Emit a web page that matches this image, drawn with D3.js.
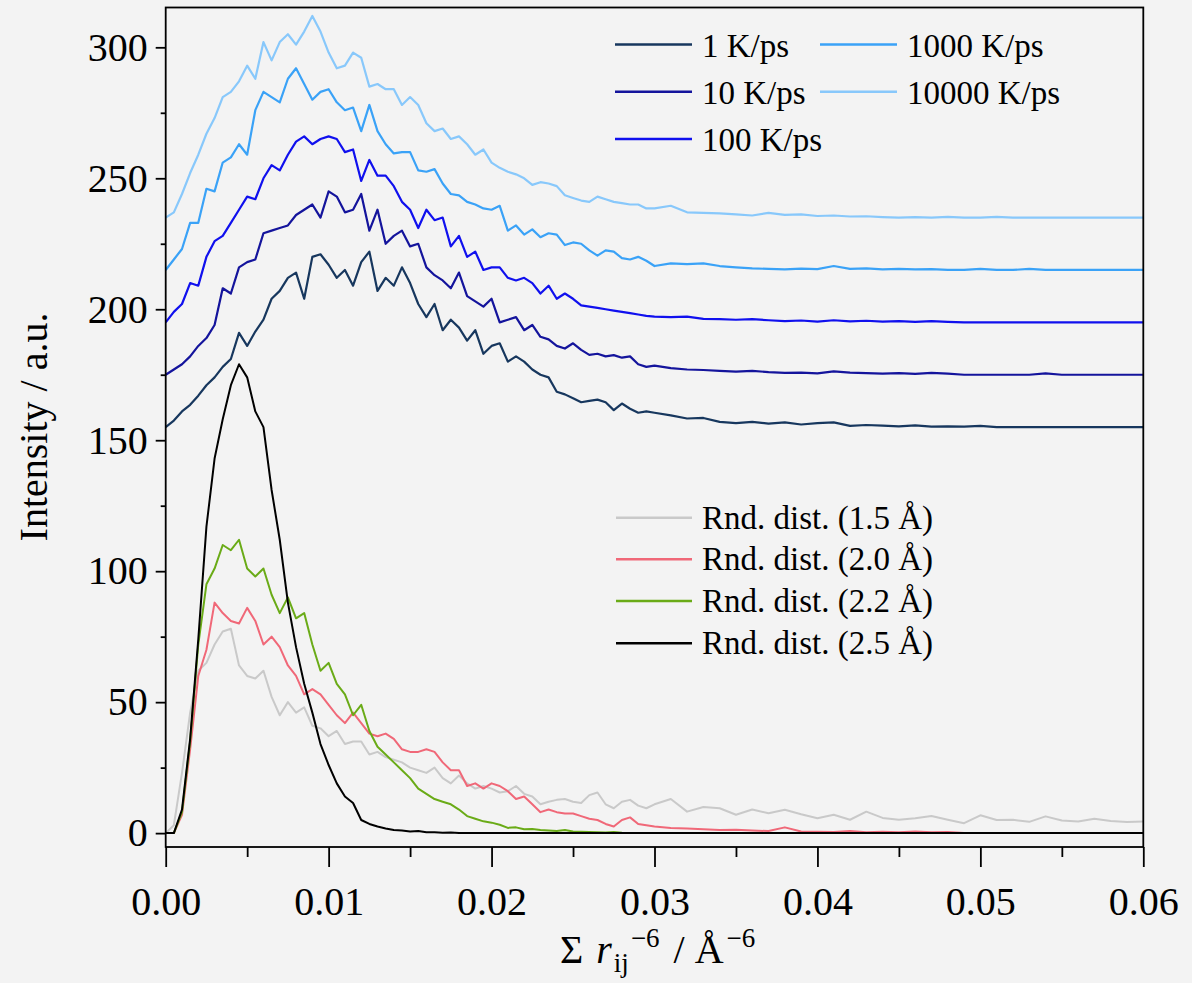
<!DOCTYPE html>
<html><head><meta charset="utf-8">
<script src="https://cdn.jsdelivr.net/npm/d3@7"></script>
<style>
html,body{margin:0;padding:0;background:#f3f3f3;}
svg{display:block;}
</style></head><body>
<svg id="chart" width="1192" height="983"></svg>
<script>
// ---- sampling grid (x = sum r_ij^-6 in Å^-6) ----
const xFine = d3.range(0, 61).map(i => +(i * 0.0005).toFixed(4));      // 0 .. 0.030
const xCoarse = d3.range(31, 61).map(i => +(i * 0.001).toFixed(3));    // 0.031 .. 0.060
const xGrid = xFine.concat(xCoarse);

// ---- tick values ----
const xMajorTicks = [0, 0.01, 0.02, 0.03, 0.04, 0.05, 0.06];
const xMinorTicks = [0.005, 0.015, 0.025, 0.035, 0.045, 0.055];
const yMajorTicks = [0, 50, 100, 150, 200, 250, 300];
const yMinorTicks = [25, 75, 125, 175, 225, 275];

// ---- cooling-rate series (vertically offset in the original) ----
const rate1 = [155,157.5,161,163.5,167,171,174,178,181,191,186,191.5,196,204,207,212,214,204,220,221,217,212,215,209,218,222,207,212,209,216,210,202,197,202,192,196,193,188,192,183,186,187,180,182,180,177,175,174,168.5,167.5,166,164.5,165,165.5,164.5,161.5,164,162,160.5,161,160.5,
  159.5,158.3,158.5,157,156.5,157,156.3,156.8,156,156.5,156.8,155.5,155.8,155.6,155.3,155.7,155.2,155.3,155.2,155.5,155,155,155,155,155,155,155,155,155,155];
const rate10 = [175,177,179,182,186,189,194,208,206,216,218,219,229,230,231,232,236,238,240,235,245,243,237,238,244,230,238,225,228,230,224,225,216,213,211,208,214,205,203,201,204,195,196,197,192,194,189.5,188.5,186,185,187,184.5,182.6,183,182,182.5,181.5,182,179,178,178.5,
  177.5,177,176.8,176.5,176.2,176.5,176,175.7,175.8,175.5,176.3,175.8,175.6,175.4,175.6,175.3,175.7,175.4,175,175,175,175,175,175.5,175,175,175,175,175,175];
const rate100 = [195,199,202,210,209,220,226,228,233,238,243,242,250,255,253,259,264,266,263,265,266,265,260,261,249,257,251,251,247,241,238,231,238,234,235,224,228,220,222,215,216,216,212,211,212,210,206,209,204,206,204,201.5,201,200.5,200,199.5,199,198.5,198,197.5,197.2,
  197,197.2,196.3,196.2,196,196.2,195.8,195.5,195.7,195.3,195.8,195.4,195.6,195.3,195.5,195.2,195.5,195.2,195,195,195,195,195,195,195,195,195,195,195,195];
const rate1000 = [215,219,223,233,233,246,245,256,258,263,259,276,283,281,279,288,292,286,280,283,284,279,276,277,268,278,268,263,259.5,260,260,253,252.5,253.5,248,244,243.5,241,240,238.5,238,239.5,230,232,228.5,230.5,227.5,229,228.5,224.5,225.5,225,222.5,220.5,222.5,222,219.5,219,220,218.5,216.5,
  217.5,217.2,217.5,216.5,216,215.6,215.4,215.2,215.5,215.3,216.5,215.4,215.6,215.2,215.4,215.2,215.3,215,215,215.4,215,215,215.4,215,215,215,215,215,215,215];
const rate10000 = [235,237,244,252,259,267,273,281,283,287,293,288,302,295,302,305,301,306,312,306,298,292,293,298,296,285,286,284,284,278,281,278,271,268,269,265,266,263,259,261,256,254,252.5,251.5,250,247.5,248.5,248,247,243.5,242.5,241.5,241,243,242,241,240.5,240,240,238.5,238.5,
  239.5,237,236.8,236.6,236.2,235.8,236.8,236,236.2,235.6,235.8,235.4,235.5,235.2,235,235.2,235,235.3,235,235,235.3,235,235,235,235,235,235,235,235,235];

// ---- random-distribution series ----
const rnd15 = [0,3,23,46,62,65,72,77,78,64,60,59,62,52,45,50,46,48,41,40,37,39,34,35,35,30,31,29,28,27,25,24,23,25,21,19,22,19,17,18,17,15.5,16,18,15,14,11,12,12.7,13,12,11.5,14.5,15.5,11,9.5,12,12.7,10.5,9.5,11,
  13,8.2,10,9.5,7,9,7.6,8.9,7.2,5.7,7,5.1,8.2,5.8,5.1,5.7,6.5,5.1,3.8,6.8,5,5.1,4.3,6.4,4.8,4.4,5.5,4.6,4.2,4.4];
const rnd20 = [0,0,7,32,60,70,88,84,81,80,86,81,72,75,71,64,60,53,55,53,49,45,42,46,42,38,37,38,36,32,31,31,32,31,27,24,24,18,19,17,19,18,16,13,14,11,8,9,8,7.5,7.5,6.5,5.5,5,3.5,2.5,5,6,3.5,3,2.5,
  2,1.8,1.5,1.2,1.3,1,0.8,2.2,0.6,0.5,0.4,0.8,0.3,0.5,0.3,0.6,0.3,0.4,0,0,0,0,0,0,0,0,0,0,0,0];
const rnd22 = [0,0,8,35,72,95,101,110,108,112,101,98,101,91,84,90,82,84,72,62,65,57,53,45,49,39,33,30,27,24,21,17,15,13,12,11,9,6.5,5.5,4.5,4,3.2,2,2.2,1.5,1.6,1.2,1,0.8,1.2,0.6,0.5,0.4,0.3,0.2,0.4,0.1,0,0,0,0,
  0,0,0,0,0,0,0,0,0,0,0,0,0,0,0,0,0,0,0,0,0,0,0,0,0,0,0,0,0,0];
const rnd25 = [0,0,9,36,74,117,143,158,171,179,174,161,155,131,112,88,71,57,46,34,26,19,14,11.5,5,3.5,2.5,1.8,1.2,1,0.6,0.8,0.3,0.3,0.1,0.2,0,0,0,0,0,0,0,0,0,0,0,0,0,0,0,0,0,0,0,0,0,0,0,0,0,
  0,0,0,0,0,0,0,0,0,0,0,0,0,0,0,0,0,0,0,0,0,0,0,0,0,0,0,0,0,0];

const rateNames = ["1 K/ps", "10 K/ps", "100 K/ps", "1000 K/ps", "10000 K/ps"];
const rateColors = ["#17375e", "#14149c", "#1010ee", "#3aa2f7", "#88c8fb"];
const rateValues = [rate1, rate10, rate100, rate1000, rate10000];

const rndNames = ["Rnd. dist. (1.5 Å)", "Rnd. dist. (2.0 Å)", "Rnd. dist. (2.2 Å)", "Rnd. dist. (2.5 Å)"];
const rndColors = ["#c9c9c9", "#f06878", "#6aab17", "#000000"];
const rndValues = [rnd15, rnd20, rnd22, rnd25];

// ---- drawing ----
const FONT = '"Liberation Serif","Times New Roman",Times,serif';
const svg = d3.select("#chart");
svg.append("rect").attr("width", 1192).attr("height", 983).attr("fill", "#f3f3f3");

const M = {left: 165.7, right: 1143.3, top: 7.5, bottom: 847};
const x = d3.scaleLinear().domain([0, 0.06]).range([M.left, M.right]);
const y = d3.scaleLinear().domain([-5.3, 315.2]).range([M.bottom, M.top]);

svg.append("clipPath").attr("id", "clip").append("rect")
  .attr("x", M.left).attr("y", M.top).attr("width", M.right - M.left).attr("height", M.bottom - M.top);

const line = d3.line().x(d => x(d[0])).y(d => y(d[1]));
const plot = svg.append("g").attr("clip-path", "url(#clip)");

rateValues.forEach((vals, k) => {
  plot.append("path").datum(xGrid.map((xv, i) => [xv, vals[i]]))
    .attr("fill", "none").attr("stroke", rateColors[k]).attr("stroke-width", 2.2)
    .attr("stroke-linejoin", "round").attr("d", line);
});
rndValues.forEach((vals, k) => {
  plot.append("path").datum(xGrid.map((xv, i) => [xv, vals[i]]))
    .attr("fill", "none").attr("stroke", rndColors[k]).attr("stroke-width", 2)
    .attr("stroke-linejoin", "round").attr("d", line);
});

// frame
svg.append("rect").attr("x", M.left).attr("y", M.top)
  .attr("width", M.right - M.left).attr("height", M.bottom - M.top)
  .attr("fill", "none").attr("stroke", "#000").attr("stroke-width", 1.8);

function styleAxis(g) {
  g.attr("font-family", FONT).attr("font-size", 40);
  g.select(".domain").remove();
  g.selectAll(".tick line").attr("stroke", "#000").attr("stroke-width", 1.8);
  g.selectAll(".tick text").attr("fill", "#000");
}

svg.append("g").attr("transform", `translate(0,${M.bottom})`)
  .call(d3.axisBottom(x).tickValues(xMajorTicks).tickSize(20).tickPadding(20).tickFormat(d3.format(".2f")))
  .call(styleAxis);
svg.append("g").attr("transform", `translate(0,${M.bottom})`)
  .call(d3.axisBottom(x).tickValues(xMinorTicks).tickSize(10).tickFormat(""))
  .call(styleAxis);
svg.append("g").attr("transform", `translate(${M.left},0)`)
  .call(d3.axisLeft(y).tickValues(yMajorTicks).tickSize(10).tickPadding(8).tickFormat(d3.format("d")))
  .call(styleAxis);
svg.append("g").attr("transform", `translate(${M.left},0)`)
  .call(d3.axisLeft(y).tickValues(yMinorTicks).tickSize(5).tickFormat(""))
  .call(styleAxis);

// axis titles
const xt = svg.append("text").attr("x", 560).attr("y", 963)
  .attr("font-family", FONT).attr("font-size", 40).attr("fill", "#000");
xt.append("tspan").text("Σ ");
xt.append("tspan").attr("font-style", "italic").attr("dx", 3).text("r");
xt.append("tspan").attr("font-size", 27).attr("dx", 2).attr("dy", 9).text("ij");
xt.append("tspan").attr("font-size", 27).attr("dx", 2).attr("dy", -25).text("−6");
xt.append("tspan").attr("dx", 4).attr("dy", 16).text(" / Å");
xt.append("tspan").attr("font-size", 27).attr("dx", 3).attr("dy", -16).text("−6");

svg.append("text").attr("transform", "translate(47,427) rotate(-90)")
  .attr("text-anchor", "middle").attr("font-family", FONT).attr("font-size", 40)
  .attr("fill", "#000").text("Intensity / a.u.");

// legends
const leg1 = [
  {col: 0, row: 0}, {col: 0, row: 1}, {col: 0, row: 2}, {col: 1, row: 0}, {col: 1, row: 1}
];
const leg1ColX = [615, 820];
const leg1RowY = [44.5, 91.7, 139];
rateNames.forEach((name, k) => {
  const lx = leg1ColX[leg1[k].col], ly = leg1RowY[leg1[k].row];
  svg.append("line").attr("x1", lx).attr("x2", lx + 77).attr("y1", ly).attr("y2", ly)
    .attr("stroke", rateColors[k]).attr("stroke-width", 2.6);
  svg.append("text").attr("x", lx + 87).attr("y", ly + 12)
    .attr("font-family", FONT).attr("font-size", 33).attr("fill", "#000").text(name);
});
const leg2RowY = [517.7, 559.3, 601, 643.3];
rndNames.forEach((name, k) => {
  const lx = 616, ly = leg2RowY[k];
  svg.append("line").attr("x1", lx).attr("x2", lx + 76).attr("y1", ly).attr("y2", ly)
    .attr("stroke", rndColors[k]).attr("stroke-width", 2.6);
  svg.append("text").attr("x", lx + 86).attr("y", ly + 11)
    .attr("font-family", FONT).attr("font-size", 33).attr("fill", "#000").text(name);
});
</script>
</body></html>
